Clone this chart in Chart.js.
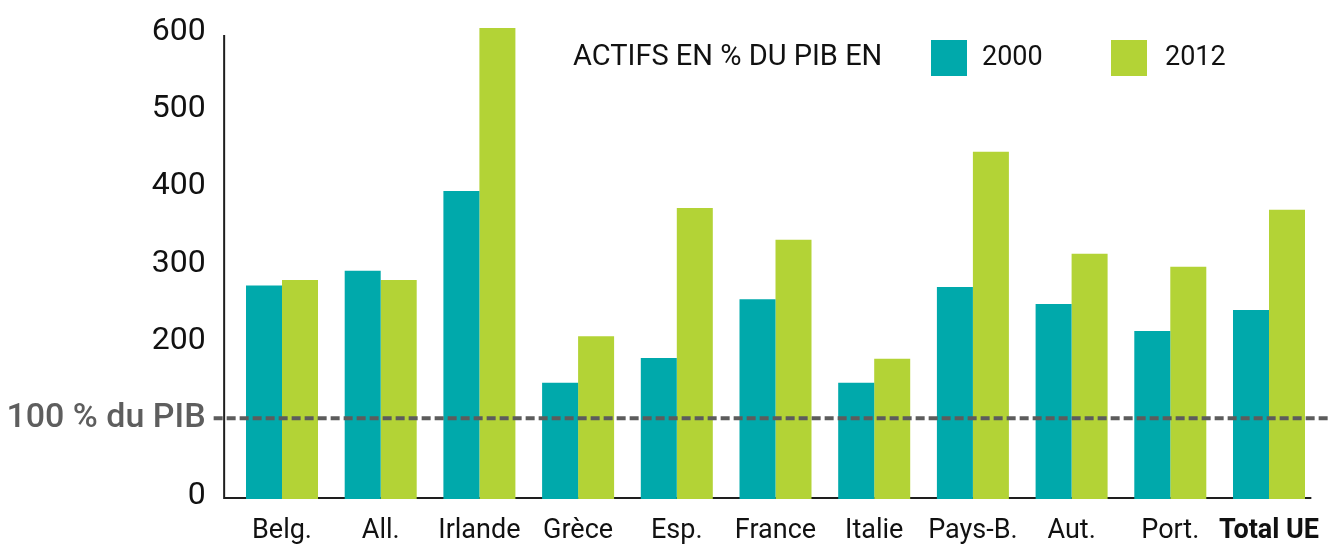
<!DOCTYPE html>
<html>
<head>
<meta charset="utf-8">
<script src="https://cdn.jsdelivr.net/npm/chart.js@4/dist/chart.umd.min.js"></script>
<style>
  html, body { margin: 0; padding: 0; background: #fff; }
  #wrap { width: 1330px; height: 544px; position: relative; }
</style>
</head>
<body>
<div id="wrap"><canvas id="c"></canvas></div>
<script>
// Actifs en % du PIB, 2000 et 2012
const categories = ['Belg.', 'All.', 'Irlande', 'Grèce', 'Esp.', 'France', 'Italie', 'Pays-B.', 'Aut.', 'Port.', 'Total UE'];
const actifs2000 = [272, 291, 394, 146, 178, 254, 146, 270, 248, 213, 240];
const actifs2012 = [279, 279, 605, 206, 372, 331, 177, 445, 313, 296, 370];
const seriesLabels = ['2000', '2012'];
const yTickValues = [0, 100, 200, 300, 400, 500, 600];
const yTickLabels = ['0', '100 % du PIB', '200', '300', '400', '500', '600'];
const legendTitle = 'ACTIFS EN % DU PIB EN';
const referenceValue = 100;

const TEAL = '#00a9ab';
const GREEN = '#b3d336';
const FONT = 'Roboto, "DejaVu Sans", sans-serif';
const Y_MIN = -4.5;
const Y_MAX = 612;

// axis lines (behind bars), dashed 100 % line and legend (on top)
const decor = {
  id: 'decor',
  beforeDatasetsDraw(chart) {
    const { ctx, chartArea, scales: { y } } = chart;
    const x0 = chartArea.left - 8.5;
    const yb = chartArea.bottom - 1;
    ctx.save();
    ctx.strokeStyle = '#1e1e1e';
    ctx.lineWidth = 2;
    ctx.beginPath();
    ctx.moveTo(x0, y.getPixelForValue(600) + 3);
    ctx.lineTo(x0, yb);
    ctx.lineTo(chartArea.right - 7, yb);
    ctx.stroke();
    ctx.restore();
  },
  afterDatasetsDraw(chart) {
    const { ctx, chartArea, scales: { y } } = chart;
    const yr = y.getPixelForValue(referenceValue);
    ctx.save();
    ctx.strokeStyle = '#5c5c5c';
    ctx.lineWidth = 4;
    ctx.setLineDash([9, 4]);
    ctx.beginPath();
    ctx.moveTo(chartArea.left - 19, yr);
    ctx.lineTo(chart.width + 5, yr);
    ctx.stroke();
    ctx.restore();

    // legend
    ctx.save();
    ctx.fillStyle = '#111';
    ctx.textBaseline = 'middle';
    ctx.textAlign = 'left';
    ctx.font = '29px ' + FONT;
    ctx.fillText(legendTitle, 573, 58);
    ctx.font = '27px ' + FONT;
    const items = [
      { x: 931, color: chart.data.datasets[0].backgroundColor, label: chart.data.datasets[0].label, tx: 982 },
      { x: 1111, color: chart.data.datasets[1].backgroundColor, label: chart.data.datasets[1].label, tx: 1165 }
    ];
    items.forEach(it => {
      ctx.fillStyle = it.color;
      ctx.fillRect(it.x, 40, 36, 36);
      ctx.fillStyle = '#111';
      ctx.fillText(it.label, it.tx, 58);
    });
    ctx.restore();
  }
};

new Chart(document.getElementById('c'), {
  type: 'bar',
  data: {
    labels: categories,
    datasets: [
      { label: seriesLabels[0], data: actifs2000, backgroundColor: TEAL, base: Y_MIN },
      { label: seriesLabels[1], data: actifs2012, backgroundColor: GREEN, base: Y_MIN }
    ]
  },
  options: {
    responsive: true,
    maintainAspectRatio: false,
    animation: false,
    layout: { padding: { left: 0, right: 11.65, top: 22.7, bottom: 0 } },
    datasets: { bar: { barPercentage: 1, categoryPercentage: 0.7295, borderWidth: 0 } },
    plugins: { legend: { display: false }, tooltip: { enabled: false } },
    scales: {
      x: {
        offset: true,
        grid: { display: false, drawTicks: false },
        border: { display: false },
        afterFit(s) {
          s.height = 45;
          s.paddingLeft = 0; s.paddingRight = 0; s.paddingTop = 0; s.paddingBottom = 0;
        },
        ticks: {
          autoSkip: false,
          maxRotation: 0,
          minRotation: 0,
          padding: 16,
          color: '#111',
          font: (c) => ({ family: FONT, size: 27, weight: c.index === categories.length - 1 ? 'bold' : 'normal' })
        }
      },
      y: {
        min: Y_MIN,
        max: Y_MAX,
        grid: { display: false, drawTicks: false },
        border: { display: false },
        afterFit(s) {
          s.width = 232.65;
          s.paddingLeft = 0; s.paddingRight = 0; s.paddingTop = 0; s.paddingBottom = 0;
        },
        afterBuildTicks(s) { s.ticks = yTickValues.map(v => ({ value: v })); },
        ticks: {
          padding: 27,
          font: (c) => (c.tick && c.tick.value === referenceValue
            ? { family: FONT, size: 34, weight: '500' }
            : { family: FONT, size: 32, weight: 'normal' }),
          color: (c) => (c.tick && c.tick.value === referenceValue ? '#5e5e5e' : '#111'),
          callback: (v) => {
            const i = yTickValues.indexOf(v);
            return i >= 0 ? yTickLabels[i] : '';
          }
        }
      }
    }
  },
  plugins: [decor]
});
</script>
</body>
</html>
